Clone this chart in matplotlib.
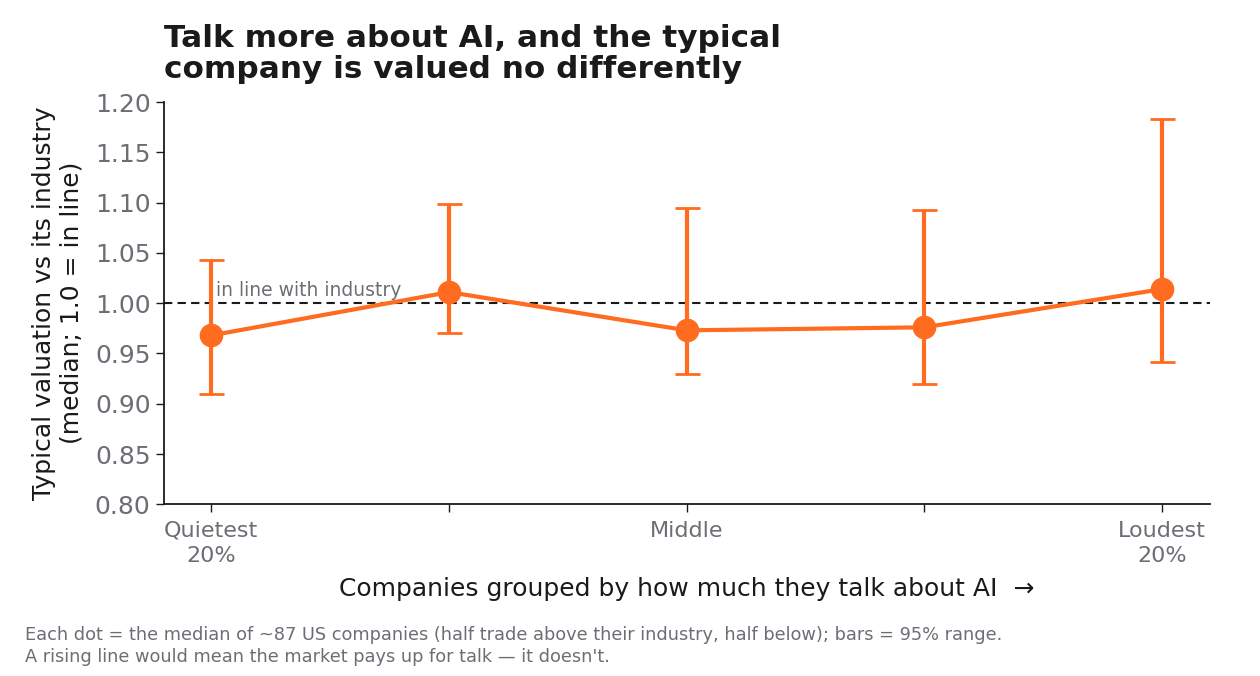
import numpy as np
import matplotlib
matplotlib.use("Agg")
import matplotlib.pyplot as plt

# Data
groups = ["Quietest\n20%", "", "Middle", "", "Loudest\n20%"]
median_ratio = [0.968, 1.011, 0.973, 0.976, 1.014]
range_low = [0.910, 0.970, 0.930, 0.920, 0.942]
range_high = [1.043, 1.099, 1.095, 1.093, 1.183]
reference_level = 1.0

ORANGE = "#FF6B1F"
GREY = "#6b6e75"
INK = "#1a1a1a"

plt.rcParams["font.family"] = ["DejaVu Sans"]

fig = plt.figure(figsize=(12.6, 6.76), dpi=100)
ax = fig.add_axes([0.130, 0.254, 0.830, 0.595])

x = np.arange(len(groups))
y = np.array(median_ratio)
yerr = np.vstack([y - np.array(range_low), np.array(range_high) - y])

ax.axhline(reference_level, color=INK, linestyle="--", linewidth=1.5, dashes=(4, 2.5), zorder=1)
ax.text(0.02, reference_level + 0.003, "in line with industry", color=GREY,
        fontsize=13.5, ha="left", va="bottom", zorder=2)

ax.errorbar(x, y, yerr=yerr, color=ORANGE, linewidth=3, elinewidth=3,
            capsize=9, capthick=2, marker="o", markersize=16, zorder=3)

ax.set_xlim(-0.2, 4.2)
ax.set_ylim(0.80, 1.20)
ax.set_yticks(np.arange(0.80, 1.2001, 0.05))
ax.set_yticklabels([f"{v:.2f}" for v in np.arange(0.80, 1.2001, 0.05)])
ax.set_xticks(x)
ax.set_xticklabels(groups, linespacing=1.3)

for side in ("top", "right"):
    ax.spines[side].set_visible(False)
for side in ("left", "bottom"):
    ax.spines[side].set_color(INK)
    ax.spines[side].set_linewidth(1.3)

ax.tick_params(axis="y", labelsize=18, labelcolor=GREY, color=INK, length=6, width=1)
ax.tick_params(axis="x", labelsize=16, labelcolor=GREY, color=INK, length=6, width=1, pad=6)

ax.set_xlabel("Companies grouped by how much they talk about AI  →", fontsize=18,
              color=INK, labelpad=8)
ax.set_ylabel("Typical valuation vs its industry\n(median; 1.0 = in line)", fontsize=18,
              color=INK, labelpad=8)

ax.set_title("Talk more about AI, and the typical\ncompany is valued no differently",
             loc="left", fontsize=22.4, fontweight="bold", color=INK, pad=17,
             linespacing=1.1)

fig.text(0.020, 0.015,
         "Each dot = the median of ~87 US companies (half trade above their industry, half below); bars = 95% range.\n"
         "A rising line would mean the market pays up for talk — it doesn't.",
         fontsize=12.8, color=GREY, ha="left", va="bottom", linespacing=1.25)

fig.savefig("out.png", dpi=100)
